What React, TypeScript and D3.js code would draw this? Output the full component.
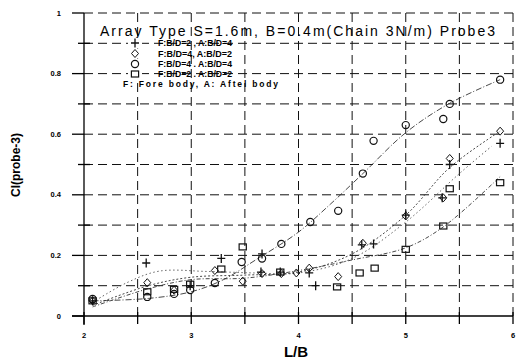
import React from "react";
import * as d3 from "d3";

// Measured series: [L/B, Cl]
const plusPts: [number, number][] = [
  [2.08, 0.05], [2.58, 0.175], [2.99, 0.1], [3.28, 0.19], [3.66, 0.205], [3.65, 0.145],
  [3.83, 0.145], [4.1, 0.142], [4.16, 0.1], [4.59, 0.235], [4.7, 0.238], [5.0, 0.333],
  [5.34, 0.39], [5.41, 0.5], [5.88, 0.57],
];
const diamondPts: [number, number][] = [
  [2.08, 0.05], [2.59, 0.11], [2.84, 0.085], [3.22, 0.15], [3.48, 0.115], [3.66, 0.14],
  [3.84, 0.14], [3.98, 0.142], [4.1, 0.158], [4.37, 0.13], [4.6, 0.24], [5.0, 0.33],
  [5.35, 0.39], [5.41, 0.52], [5.88, 0.61],
];
const circlePts: [number, number][] = [
  [2.08, 0.056], [2.59, 0.063], [2.84, 0.073], [2.99, 0.086], [3.22, 0.109], [3.47, 0.178],
  [3.66, 0.19], [3.84, 0.238], [4.11, 0.31], [4.37, 0.347], [4.6, 0.47], [4.7, 0.578],
  [5.0, 0.63], [5.35, 0.65], [5.41, 0.7], [5.88, 0.78],
];
const squarePts: [number, number][] = [
  [2.08, 0.05], [2.59, 0.08], [2.84, 0.088], [2.99, 0.105], [3.28, 0.155], [3.48, 0.228],
  [3.83, 0.145], [4.36, 0.096], [4.57, 0.142], [4.71, 0.158], [5.0, 0.22], [5.35, 0.297],
  [5.41, 0.42], [5.88, 0.44],
];

// Fitted trend curves
const circleFit: [number, number][] = [
  [2.08, 0.05], [2.6, 0.058], [3.0, 0.08], [3.3, 0.12], [3.6, 0.185], [4.0, 0.277],
  [4.3, 0.37], [4.6, 0.47], [5.0, 0.605], [5.4, 0.7], [5.88, 0.78],
];
const plusFit: [number, number][] = [
  [2.08, 0.035], [2.6, 0.1], [3.0, 0.128], [3.5, 0.135], [4.0, 0.145], [4.5, 0.205],
  [5.0, 0.333], [5.41, 0.49], [5.88, 0.61],
];
const diamondFit: [number, number][] = [
  [2.08, 0.045], [2.4, 0.11], [2.7, 0.148], [3.15, 0.147], [3.6, 0.142], [4.0, 0.142],
  [4.5, 0.19], [5.0, 0.31], [5.5, 0.47], [5.8, 0.56],
];
const squareFit: [number, number][] = [
  [2.08, 0.03], [2.6, 0.09], [3.0, 0.12], [3.5, 0.125], [4.0, 0.15], [4.5, 0.185],
  [5.0, 0.225], [5.35, 0.294], [5.88, 0.46],
];

const xTickLabels = ["2", "3", "4", "5", "6"];
const yTickLabels = ["0", "0.2", "0.4", "0.6", "0.8", "1"];
const legendLabels = [
  "F:B/D=2 , A:B/D=4",
  "F:B/D=4, A:B/D=2",
  "F:B/D=4 . A:B/D=4",
  "F:B/D=2 . A:B/D=2",
];
const legendNote = "F: Fore body, A: Aftel body";
const title = "Array Type S=1.6m, B=0.4m(Chain 3N/m) Probe3";

const W = 531;
const H = 362;
const x = d3.scaleLinear().domain([2, 6]).range([84, 513]);
const y = d3.scaleLinear().domain([0, 1]).range([316, 13]);

type Kind = "plus" | "diamond" | "circle" | "square";

function Marker({ kind, cx, cy }: { kind: Kind; cx: number; cy: number }) {
  const s = { fill: "none", stroke: "#111", strokeWidth: 1.2 };
  if (kind === "circle") return <circle cx={cx} cy={cy} r={3.6} {...s} />;
  if (kind === "square") return <rect x={cx - 3.6} y={cy - 3} width={7.2} height={6} {...s} />;
  if (kind === "diamond")
    return (
      <path
        d={`M${cx},${cy - 4}L${cx + 3.5},${cy}L${cx},${cy + 4}L${cx - 3.5},${cy}Z`}
        {...s}
        strokeWidth={1}
      />
    );
  return (
    <path d={`M${cx - 4},${cy}H${cx + 4}M${cx},${cy - 4.5}V${cy + 4.5}`} {...s} strokeWidth={1.3} />
  );
}

export default function App() {
  const line = d3
    .line<[number, number]>()
    .x((d) => x(d[0]))
    .y((d) => y(d[1]))
    .curve(d3.curveCatmullRom.alpha(0.5));

  const xTicks = d3.range(2, 6.01, 0.5);
  const yTicks = d3.range(0, 1.001, 0.1);
  const font = "'Liberation Sans', Arial, sans-serif";

  const series: { kind: Kind; pts: [number, number][] }[] = [
    { kind: "plus", pts: plusPts },
    { kind: "diamond", pts: diamondPts },
    { kind: "circle", pts: circlePts },
    { kind: "square", pts: squarePts },
  ];
  const legendRows = [43, 53.5, 64, 74];
  const legendKinds: Kind[] = ["plus", "diamond", "circle", "square"];

  return (
    <svg width={W} height={H} style={{ position: "absolute", left: 0, top: 0, background: "#fff" }}>
      {/* grid */}
      <g stroke="#111" strokeWidth={1} strokeDasharray="9,5" fill="none">
        {yTicks.slice(1).map((t, i) => (
          <line key={"gy" + i} x1={x(2)} x2={x(6)} y1={y(t)} y2={y(t)} />
        ))}
        {xTicks.slice(1).map((t, i) => (
          <line key={"gx" + i} x1={x(t)} x2={x(t)} y1={y(1)} y2={y(0)} />
        ))}
      </g>
      {/* axes */}
      <g stroke="#000" strokeWidth={1.3}>
        <line x1={x(2)} x2={x(2)} y1={y(1)} y2={y(0) + 9} />
        <line x1={72} x2={x(6)} y1={y(0)} y2={y(0)} />
        {yTicks.map((t, i) =>
          i % 2 === 0 ? (
            <line key={"ty" + i} x1={72} x2={x(2)} y1={y(t)} y2={y(t)} />
          ) : (
            <line key={"ty" + i} x1={78} x2={x(2) + 6} y1={y(t)} y2={y(t)} />
          )
        )}
        {xTicks.map((t, i) => (
          <line key={"tx" + i} x1={x(t)} x2={x(t)} y1={y(0) - 4} y2={y(0) + 8} />
        ))}
      </g>
      {/* tick labels */}
      <g fontFamily={font} fontWeight="bold" fontSize={7.5} fill="#000">
        {yTickLabels.map((l) => (
          <text key={"yl" + l} x={61} y={y(+l) + 2.5} textAnchor="end">
            {l}
          </text>
        ))}
        {xTickLabels.map((l) => (
          <text key={"xl" + l} x={x(+l)} y={338} textAnchor="middle">
            {l}
          </text>
        ))}
      </g>
      <text x={296} y={357} fontFamily={font} fontWeight="bold" fontSize={15} textAnchor="middle">
        L/B
      </text>
      <text
        transform="translate(20,165) rotate(-90)"
        fontFamily={font}
        fontSize={12}
        fontWeight="bold"
        textAnchor="middle"
      >
        Cl(probe-3)
      </text>
      {/* fitted curves */}
      <g fill="none" stroke="#333" strokeWidth={0.9}>
        <path d={line(circleFit) || ""} strokeDasharray="6,2,1,2" />
        <path d={line(plusFit) || ""} strokeDasharray="2,2" />
        <path d={line(diamondFit) || ""} strokeDasharray="1.5,2.5" stroke="#555" />
        <path d={line(squareFit) || ""} strokeDasharray="4,2,1,2" />
      </g>
      {/* markers */}
      {series.map((s) =>
        s.pts.map((p, i) => <Marker key={s.kind + i} kind={s.kind} cx={x(p[0])} cy={y(p[1])} />)
      )}
      {/* title and legend */}
      <text x={100} y={36} fontFamily={font} fontSize={14} textLength={395} lengthAdjust="spacing">
        {title}
      </text>
      {legendKinds.map((k, i) => (
        <g key={"lg" + k}>
          <rect x={128} y={legendRows[i] - 5} width={14} height={10} fill="#fff" />
          <Marker kind={k} cx={135} cy={legendRows[i]} />
          <text
            x={158}
            y={legendRows[i] + 3}
            fontFamily={font}
            fontWeight="bold"
            fontSize={8.5}
            textLength={74}
            lengthAdjust="spacingAndGlyphs"
          >
            {legendLabels[i]}
          </text>
        </g>
      ))}
      <text
        x={123}
        y={87}
        fontFamily={font}
        fontWeight="bold"
        fontSize={8.5}
        textLength={155}
        lengthAdjust="spacing"
      >
        {legendNote}
      </text>
    </svg>
  );
}
